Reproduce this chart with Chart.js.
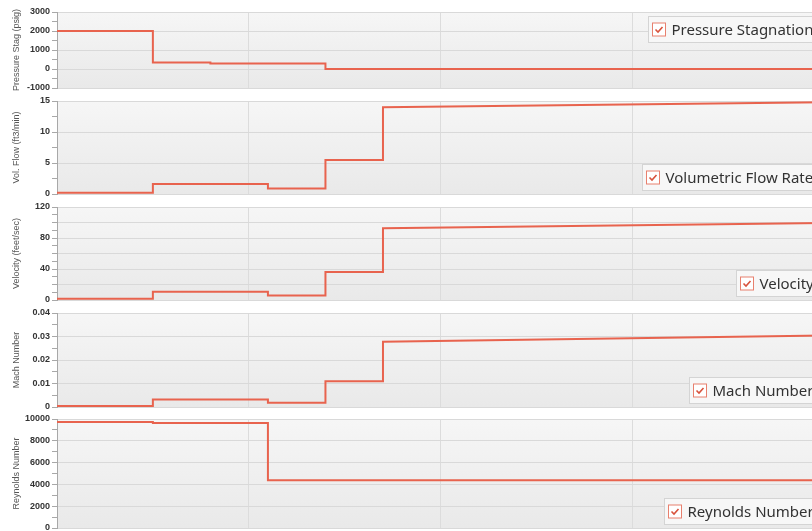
<!DOCTYPE html>
<html lang="en">
<head>
<meta charset="UTF-8">
<title>Pipe Segment Results</title>
<script src="https://cdn.jsdelivr.net/npm/chart.js"></script>
<style>
  html, body { margin: 0; padding: 0; background: #fff; width: 812px; height: 531px; overflow: hidden; }
  canvas { position: absolute; left: 0; }
</style>
</head>
<body>
<canvas id="c0" width="826" height="92"  style="top:4px"></canvas>
<canvas id="c1" width="826" height="109" style="top:93px"></canvas>
<canvas id="c2" width="826" height="109" style="top:199px"></canvas>
<canvas id="c3" width="826" height="110" style="top:305px"></canvas>
<canvas id="c4" width="826" height="125" style="top:411px"></canvas>
<script>
// distance along the pipe (ft), segment boundaries
const segmentBounds = [0, 50, 80, 110, 140, 170, 400];

// [value at segment start, value at segment end]
const pressureStag = [[2000, 2000], [345, 345], [295, 295], [295, 295], [5, 5], [5, 5]];
const volFlow      = [[0.2, 0.2], [1.6, 1.6], [1.6, 1.6], [0.9, 0.9], [5.5, 5.5], [14.0, 14.8]];
const velocity     = [[1.5, 1.5], [10.5, 10.5], [10.5, 10.5], [5.9, 5.9], [36, 36], [92.5, 99.2]];
const machNumber   = [[0.0004, 0.0004], [0.0032, 0.0032], [0.0032, 0.0032], [0.0018, 0.0018], [0.011, 0.011], [0.0278, 0.0304]];
const reynolds     = [[9730, 9730], [9640, 9640], [9640, 9640], [4370, 4370], [4370, 4370], [4370, 4370]];

const seriesNames = ['Pressure Stagnation', 'Volumetric Flow Rate', 'Velocity', 'Mach Number', 'Reynolds Number'];
const axisTitles  = ['Pressure Stag (psig)', 'Vol. Flow (ft3/min)', 'Velocity (feet/sec)', 'Mach Number', 'Reynolds Number'];
// [min, max, minor step, label step, grid step]
const yRanges = [
  [-1000, 3000, 500, 1000, 1000],
  [0, 15, 2.5, 5, 5],
  [0, 120, 10, 40, 20],
  [0, 0.04, 0.005, 0.01, 0.01],
  [0, 10000, 1000, 2000, 2000]
];
const legendAt = ['top', 'bottom', 'bottom', 'bottom', 'bottom'];

const LINE = '#e8634e';

function toPoints(segs) {
  const pts = [];
  segs.forEach((s, i) => {
    pts.push({ x: segmentBounds[i], y: s[0] });
    pts.push({ x: segmentBounds[i + 1], y: s[1] });
  });
  return pts;
}

function onStep(v, step) {
  const r = v / step;
  return Math.abs(r - Math.round(r)) < 1e-6;
}

const plotBackground = {
  id: 'plotBackground',
  beforeDraw(chart) {
    const { ctx, chartArea: a } = chart;
    const g = ctx.createLinearGradient(0, a.top, 0, a.bottom);
    g.addColorStop(0, '#f6f6f6');
    g.addColorStop(1, '#e9e9e9');
    ctx.save();
    ctx.fillStyle = g;
    ctx.fillRect(a.left, a.top, a.right - a.left, a.bottom - a.top);
    ctx.restore();
  }
};

const legendBox = {
  id: 'legendBox',
  afterDraw(chart, args, opts) {
    const { ctx, chartArea: a } = chart;
    ctx.save();
    ctx.font = '15px "Noto Sans"';
    const tw = ctx.measureText(opts.text).width;
    const h = 26;
    const right = a.right - 3;
    const w = 23 + tw + 8;
    const x = Math.round(right - w) + 0.5;
    const y = Math.round(opts.at === 'top' ? a.top + 4 : a.bottom - 4.5 - h) + 0.5;
    ctx.fillStyle = '#f7f7f7';
    ctx.strokeStyle = '#d4d4d4';
    ctx.lineWidth = 1;
    ctx.fillRect(x, y, w, h);
    ctx.strokeRect(x, y, w, h);
    // checkbox
    const cx = x + 4, cy = y + 6.5;
    ctx.fillStyle = '#fff';
    ctx.fillRect(cx, cy, 13, 13);
    ctx.strokeStyle = '#e8806e';
    ctx.strokeRect(cx, cy, 13, 13);
    ctx.strokeStyle = '#d8523c';
    ctx.lineWidth = 1.6;
    ctx.beginPath();
    ctx.moveTo(cx + 3, cy + 6.5);
    ctx.lineTo(cx + 5.5, cy + 9);
    ctx.lineTo(cx + 10, cy + 4);
    ctx.stroke();
    ctx.fillStyle = '#333';
    ctx.textBaseline = 'middle';
    ctx.fillText(opts.text, x + 23, y + h / 2 + 1);
    ctx.restore();
  }
};

const allSeries = [pressureStag, volFlow, velocity, machNumber, reynolds];

allSeries.forEach((segs, i) => {
  const [min, max, minor, major, gridStep] = yRanges[i];
  new Chart(document.getElementById('c' + i), {
    type: 'line',
    data: {
      datasets: [{
        label: seriesNames[i],
        data: toPoints(segs),
        borderColor: LINE,
        borderWidth: 2,
        pointRadius: 0,
        tension: 0
      }]
    },
    options: {
      responsive: false,
      animation: false,
      events: [],
      layout: { padding: { top: 8, bottom: 8, left: 0, right: 2 } },
      scales: {
        x: {
          type: 'linear',
          min: 0,
          max: 400,
          ticks: { display: false, stepSize: 100 },
          grid: { color: '#dcdcdc', drawTicks: false },
          border: { display: false }
        },
        y: {
          min: min,
          max: max,
          afterFit(scale) { scale.width = 57; },
          ticks: {
            stepSize: minor,
            autoSkip: false,
            padding: 2,
            color: '#333',
            font: { family: '"Liberation Sans"', size: 9, weight: 'bold' },
            callback: v => onStep(v, major) ? String(Math.round(v * 1e6) / 1e6) : ''
          },
          grid: {
            tickLength: 5,
            tickColor: '#a8a8a8',
            color: c => onStep(c.tick.value, gridStep) ? '#d9d9d9' : 'rgba(0,0,0,0)'
          },
          border: { display: true, color: '#a8a8a8' },
          title: {
            display: true,
            text: axisTitles[i],
            color: '#555',
            font: { family: '"Liberation Sans"', size: 9 },
            padding: { top: 11, bottom: 0 }
          }
        }
      },
      plugins: {
        legend: { display: false },
        tooltip: { enabled: false },
        legendBox: { text: seriesNames[i], at: legendAt[i] }
      }
    },
    plugins: [plotBackground, legendBox]
  });
});
</script>
</body>
</html>
